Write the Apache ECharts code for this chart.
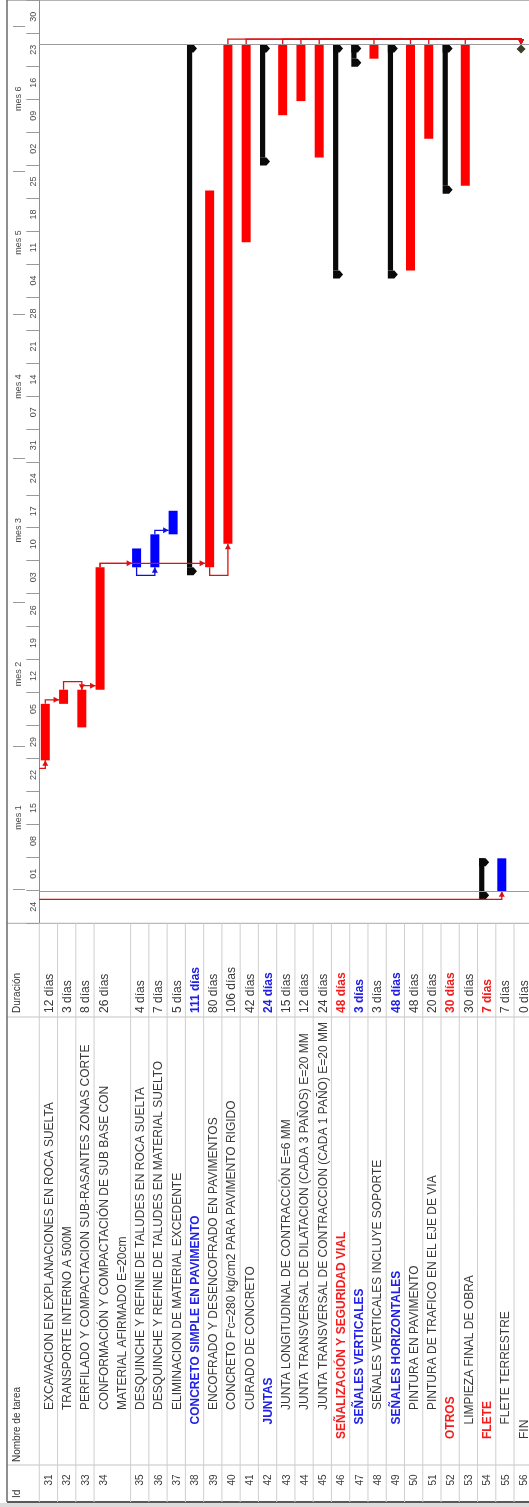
<!DOCTYPE html>
<html lang="es">
<head>
<meta charset="utf-8">
<title>Cronograma – Diagrama de Gantt</title>
<script src="https://cdn.jsdelivr.net/npm/echarts@6.0.0/dist/echarts.min.js"></script>
<style>
  html, body { margin: 0; padding: 0; background: #ffffff; }
  #chart { width: 529px; height: 1507px; }
</style>
</head>
<body>
<div id="chart"></div>
<script>
// ---------------- schedule data ----------------
const taskIds = [31, 32, 33, 34, 35, 36, 37, 38, 39, 40, 41, 42, 43, 44, 45, 46, 47, 48, 49, 50, 51, 52, 53, 54, 55, 56];

const taskNames = [
  'EXCAVACION EN EXPLANACIONES EN ROCA SUELTA',
  'TRANSPORTE INTERNO A 500M',
  'PERFILADO Y COMPACTACION SUB-RASANTES ZONAS CORTE',
  'CONFORMACIÓN Y COMPACTACIÓN DE SUB BASE CON\nMATERIAL AFIRMADO E=20cm',
  'DESQUINCHE Y REFINE DE TALUDES EN ROCA SUELTA',
  'DESQUINCHE Y REFINE DE TALUDES EN MATERIAL SUELTO',
  'ELIMINACION DE MATERIAL EXCEDENTE',
  'CONCRETO SIMPLE EN PAVIMENTO',
  'ENCOFRADO Y DESENCOFRADO EN PAVIMENTOS',
  "CONCRETO F'c=280 kg/cm2 PARA PAVIMENTO RIGIDO",
  'CURADO DE CONCRETO',
  'JUNTAS',
  'JUNTA LONGITUDINAL DE CONTRACCIÓN E=6 MM',
  'JUNTA TRANSVERSAL DE DILATACION (CADA 3 PAÑOS) E=20 MM',
  'JUNTA TRANSVERSAL DE CONTRACCION (CADA 1 PAÑO) E=20 MM',
  'SEÑALIZACIÓN Y SEGURIDAD VIAL',
  'SEÑALES VERTICALES',
  'SEÑALES VERTICALES INCLUYE SOPORTE',
  'SEÑALES HORIZONTALES',
  'PINTURA EN PAVIMENTO',
  'PINTURA DE TRAFICO EN EL EJE DE VIA',
  'OTROS',
  'LIMPIEZA FINAL DE OBRA',
  'FLETE',
  'FLETE TERRESTRE',
  'FIN'
];

const durationLabels = [
  '12 días', '3 días', '8 días', '26 días', '4 días', '7 días', '5 días', '111 días',
  '80 días', '106 días', '42 días', '24 días', '15 días', '12 días', '24 días', '48 días',
  '3 días', '3 días', '48 días', '48 días', '20 días', '30 días', '30 días', '7 días',
  '7 días', '0 días'
];

// start of each task, in days from the first week shown on the timescale
const taskStarts = [
  34.6, 46.6, 41.6, 49.6, 75.6, 75.6, 82.6, 75.6, 75.6, 80.6, 144.6, 162.6, 171.6,
  174.6, 162.6, 138.6, 183.6, 183.6, 138.6, 138.6, 166.6, 156.6, 156.6, 6.8, 6.8, 186.6
];

const taskKinds = [
  'task', 'task', 'task', 'task', 'task', 'task', 'task', 'summary', 'task', 'task',
  'task', 'summary', 'task', 'task', 'task', 'summary', 'summary', 'task', 'summary',
  'task', 'task', 'summary', 'task', 'summary', 'task', 'milestone'
];

const outlineLevels = [3, 3, 3, 3, 3, 3, 3, 2, 3, 3, 3, 2, 3, 3, 3, 1, 2, 3, 2, 3, 3, 1, 2, 1, 2, 1];

// 1 = on the critical path (red), 0 = with slack (blue)
const taskCritical = [1, 1, 1, 1, 0, 0, 0, 1, 1, 1, 1, 1, 1, 1, 1, 1, 1, 1, 1, 1, 1, 1, 1, 1, 0, 1];

// predecessor -> successor (task 30 lies above the listed rows)
const taskLinks = [
  [30, 31, 'FS'], [30, 55, 'FS'], [31, 32, 'FS'], [32, 33, 'FF'], [33, 34, 'FS'],
  [34, 35, 'FS'], [34, 39, 'FS'], [35, 36, 'SS'], [36, 37, 'FS'], [39, 40, 'SS'],
  [40, 56, 'FS'], [41, 56, 'FS'], [43, 56, 'FS'], [44, 56, 'FS'], [45, 56, 'FS'],
  [48, 56, 'FS'], [50, 56, 'FS'], [51, 56, 'FS'], [53, 56, 'FS']
];

// ---------------- timescale ----------------
const weekLabels = ['24', '01', '08', '15', '22', '29', '05', '12', '19', '26', '03', '10', '17', '24',
                    '31', '07', '14', '21', '28', '04', '11', '18', '25', '02', '09', '16', '23', '30'];
const monthLabels = ['mes 1', 'mes 2', 'mes 3', 'mes 4', 'mes 5', 'mes 6'];
const monthBounds = [7.2, 37.7, 68.2, 98.7, 129.3, 159.8, 190.4];

// ---------------- derived values ----------------
const durationDays = durationLabels.map(s => parseInt(s, 10));
const taskEnds = taskStarts.map((s, i) => s + durationDays[i]);
const nameLines = taskNames.map(n => n.split('\n'));
const rowUnits = [];
nameLines.reduce((acc, lines, i) => { rowUnits[i] = acc; return acc + lines.length; }, 0);
const totalUnits = rowUnits[rowUnits.length - 1] + nameLines[nameLines.length - 1].length;
const daySpan = weekLabels.length * 7;
const monthCenters = monthLabels.map((_, i) => (monthBounds[i] + monthBounds[i + 1]) / 2);
const projectStart = Math.min(...taskStarts);
const projectFinish = Math.max(...taskEnds);

// ---------------- layout & style ----------------
const FONT = '"Liberation Sans", Arial, sans-serif';
const FRAME_LEFT = 7;
const HEADER_RIGHT = 39.3;
const ROW_PX = 18.26;
const GANTT_TOP = 0.3;
const GANTT_BOTTOM = 923.3;
const DUR_END = 1017;
const NAME_END = 1465;
const TABLE_BOTTOM = 1502;
const PAGE_W = 529;

const RED = '#ff0000';
const BLUE = '#0000ff';
const BLACK = '#0a0a0a';
const LINK_RED = '#dd1111';
const LINK_BLUE = '#1010dd';
const TXT = '#3a3a3a';
const TXT_RED = '#f51c1c';
const TXT_BLUE = '#2020e6';
const GRID_GRAY = '#cfcfcf';

function markCenter(i) {
  if (taskKinds[i] === 'summary') return 4.2;
  if (taskKinds[i] === 'milestone') return 7;
  return 6;
}

function renderTask(params, api) {
  const i = params.dataIndex;
  const u = api.value(0);
  const top = api.coord([u, api.value(2)]);
  const bot = api.coord([u, api.value(1)]);
  const x0 = top[0];
  const kind = taskKinds[i];
  if (kind === 'milestone') {
    const cx = x0 + markCenter(i), r = 4.5, cy = top[1] + r;
    return {
      type: 'polygon',
      shape: { points: [[cx, cy - r], [cx + r, cy], [cx, cy + r], [cx - r, cy]] },
      style: { fill: '#3d3d28' }
    };
  }
  if (kind === 'summary') {
    const xl = x0 + 1.6;
    const cap = y0 => ({
      type: 'polygon',
      shape: { points: [[xl, y0], [xl + 6.5, y0], [xl + 10, y0 + 4], [xl + 6.5, y0 + 8], [xl, y0 + 8]] },
      style: { fill: BLACK }
    });
    return {
      type: 'group',
      children: [
        { type: 'rect', shape: { x: xl, y: top[1], width: 5.2, height: bot[1] - top[1] }, style: { fill: BLACK } },
        cap(top[1]),
        cap(bot[1])
      ]
    };
  }
  return {
    type: 'rect',
    shape: { x: x0 + 1.5, y: top[1], width: 9, height: bot[1] - top[1] },
    style: { fill: taskCritical[i] ? RED : BLUE }
  };
}

function arrowHead(tip, dir) {
  const a = 5.5, w = 3;
  const [x, y] = tip;
  if (dir === 'right') return [[x, y], [x - a, y - w], [x - a, y + w]];
  if (dir === 'up') return [[x, y], [x - w, y + a], [x + w, y + a]];
  return [[x, y], [x - w, y - a], [x + w, y - a]];
}

function renderLink(params, api) {
  const [from, to, type] = taskLinks[params.dataIndex];
  const pi = taskIds.indexOf(from);
  const si = taskIds.indexOf(to);
  const sTop = api.coord([rowUnits[si], taskEnds[si]]);
  const sBot = api.coord([rowUnits[si], taskStarts[si]]);
  const sCx = sTop[0] + markCenter(si);
  const color = (pi < 0 || taskCritical[pi]) ? LINK_RED : LINK_BLUE;
  let pts, dir;
  if (pi < 0) {
    const left = api.coord([0, 0])[0];
    const y = sBot[1] + 8;
    pts = [[left, y], [sCx, y], [sCx, sBot[1]]];
    dir = 'up';
  } else {
    const pTop = api.coord([rowUnits[pi], taskEnds[pi]]);
    const pBot = api.coord([rowUnits[pi], taskStarts[pi]]);
    const pCx = pTop[0] + markCenter(pi);
    if (type === 'SS') {
      const y = pBot[1] + 8;
      pts = [[pCx, pBot[1]], [pCx, y], [sCx, y], [sCx, sBot[1]]];
      dir = 'up';
    } else if (type === 'FF' || taskKinds[si] === 'milestone') {
      const y = pTop[1] - (type === 'FF' ? 8 : 5.5);
      pts = [[pCx, pTop[1]], [pCx, y], [sCx, y], [sCx, sTop[1]]];
      dir = 'down';
    } else {
      const y = pTop[1] - 4;
      pts = [[pCx, pTop[1]], [pCx, y], [sTop[0] + 1.5, y]];
      dir = 'right';
    }
  }
  return {
    type: 'group',
    children: [
      { type: 'polyline', shape: { points: pts }, style: { stroke: color, lineWidth: 1.3, fill: null } },
      { type: 'polygon', shape: { points: arrowHead(pts[pts.length - 1], dir) }, style: { fill: color } }
    ]
  };
}

function rotatedText(x, y, text, align, font, fill) {
  return {
    type: 'text', x: x, y: y, rotation: Math.PI / 2,
    style: { text: text, x: 0, y: 0, align: align, verticalAlign: 'middle', font: font, fill: fill }
  };
}

function renderRow(params, api) {
  const i = params.dataIndex;
  const cs = params.coordSys;
  const u = api.value(0);
  const x0 = api.coord([u, 0])[0];
  const lvl = outlineLevels[i];
  const summary = taskKinds[i] === 'summary';
  const color = summary ? (lvl === 1 ? TXT_RED : TXT_BLUE) : TXT;
  const font = (summary ? 'bold ' : '') + '12px ' + FONT;
  const nameAnchor = NAME_END - 26 - (lvl - 1) * 14.5;
  const children = [
    { type: 'line', shape: { x1: x0, y1: cs.y, x2: x0, y2: cs.y + cs.height }, style: { stroke: GRID_GRAY, lineWidth: 1 } }
  ];
  nameLines[i].forEach((line, k) => {
    const cx = api.coord([u + k + 0.5, 0])[0] + 1;
    children.push(rotatedText(cx, nameAnchor, line, 'left', font, color));
  });
  const cx0 = api.coord([u + 0.5, 0])[0] + 1;
  children.push(rotatedText(cx0, DUR_END - 4, durationLabels[i], 'left', font, color));
  children.push(rotatedText(cx0, NAME_END + 15, String(taskIds[i]), 'center', '10px ' + FONT, TXT));
  return { type: 'group', children: children };
}

function hLine(y, color, width) {
  return { type: 'line', shape: { x1: FRAME_LEFT, y1: y, x2: PAGE_W, y2: y }, style: { stroke: color, lineWidth: width }, silent: true };
}

function headerText(y, text) {
  return {
    type: 'text', x: 17.5, y: y, rotation: Math.PI / 2, silent: true,
    style: { text: text, align: 'left', verticalAlign: 'middle', font: '10px ' + FONT, fill: '#333' }
  };
}

const gridWidth = totalUnits * ROW_PX;

const option = {
  animation: false,
  backgroundColor: '#ffffff',
  grid: [
    { left: HEADER_RIGHT, top: GANTT_TOP, width: gridWidth, height: GANTT_BOTTOM - GANTT_TOP, outerBoundsMode: 'none' },
    { left: HEADER_RIGHT, top: GANTT_BOTTOM, width: gridWidth, height: TABLE_BOTTOM - GANTT_BOTTOM, outerBoundsMode: 'none' }
  ],
  xAxis: [
    { type: 'value', gridIndex: 0, min: 0, max: totalUnits, show: false },
    { type: 'value', gridIndex: 1, min: 0, max: totalUnits, show: false }
  ],
  yAxis: [
    // time in days, used by bars and links
    { type: 'value', gridIndex: 0, min: 0, max: daySpan, show: false },
    // lower tier: weeks
    {
      type: 'category', gridIndex: 0, position: 'left', data: weekLabels, boundaryGap: true,
      axisLine: { show: true, lineStyle: { color: '#8c8c8c', width: 1 } },
      axisTick: { show: true, length: 13, lineStyle: { color: '#9a9a9a' } },
      axisLabel: { interval: 0, rotate: 90, margin: 1.5, fontSize: 9, fontFamily: FONT, color: '#4a4a4a' },
      splitLine: { show: false }
    },
    // upper tier: months
    {
      type: 'value', gridIndex: 0, position: 'left', offset: HEADER_RIGHT - 25, min: 0, max: daySpan,
      axisLine: { show: false },
      axisTick: { show: true, length: 12, customValues: monthBounds, lineStyle: { color: '#9a9a9a' } },
      axisLabel: {
        customValues: monthCenters, rotate: 90, margin: 1.5, fontSize: 9, fontFamily: FONT, color: '#4a4a4a',
        formatter: v => {
          let best = 0;
          monthCenters.forEach((c, k) => { if (Math.abs(c - v) < Math.abs(monthCenters[best] - v)) best = k; });
          return monthLabels[best];
        }
      },
      splitLine: { show: false }
    },
    { type: 'value', gridIndex: 1, min: 0, max: 1, show: false }
  ],
  series: [
    {
      type: 'custom', name: 'tareas', xAxisIndex: 0, yAxisIndex: 0,
      encode: { x: 0, y: [1, 2] },
      data: taskIds.map((_, i) => [rowUnits[i], taskStarts[i], taskEnds[i]]),
      renderItem: renderTask,
      markLine: {
        silent: true, symbol: 'none', animation: false,
        label: { show: false },
        lineStyle: { color: '#9a9a9a', width: 1, type: 'solid' },
        data: [{ yAxis: projectStart }, { yAxis: projectFinish }]
      },
      z: 3
    },
    {
      type: 'custom', name: 'vínculos', xAxisIndex: 0, yAxisIndex: 0,
      encode: { x: 0, y: 1 },
      data: taskLinks.map(l => {
        const si = taskIds.indexOf(l[1]);
        return [rowUnits[si], taskStarts[si]];
      }),
      renderItem: renderLink,
      z: 4
    },
    {
      type: 'custom', name: 'tabla', xAxisIndex: 1, yAxisIndex: 3,
      encode: { x: 0, y: 1 },
      data: taskIds.map((_, i) => [rowUnits[i], 0]),
      renderItem: renderRow,
      z: 2
    }
  ],
  graphic: [
    { type: 'rect', shape: { x: 0, y: TABLE_BOTTOM + 1, width: PAGE_W, height: 6 }, style: { fill: '#dcdcdc' }, silent: true },
    hLine(0.5, '#b4b4b4', 1),
    hLine(GANTT_BOTTOM, '#a8a8a8', 1),
    hLine(DUR_END, '#c4c4c4', 1),
    hLine(NAME_END, '#c4c4c4', 1),
    hLine(TABLE_BOTTOM, '#5a5a5a', 2),
    { type: 'line', shape: { x1: FRAME_LEFT, y1: 0, x2: FRAME_LEFT, y2: TABLE_BOTTOM }, style: { stroke: '#6a6a6a', lineWidth: 1.5 }, silent: true },
    headerText(1498, 'Id'),
    headerText(NAME_END - 3, 'Nombre de tarea'),
    headerText(DUR_END - 4, 'Duración')
  ]
};

const chart = echarts.init(document.getElementById('chart'));
chart.setOption(option);
</script>
</body>
</html>
